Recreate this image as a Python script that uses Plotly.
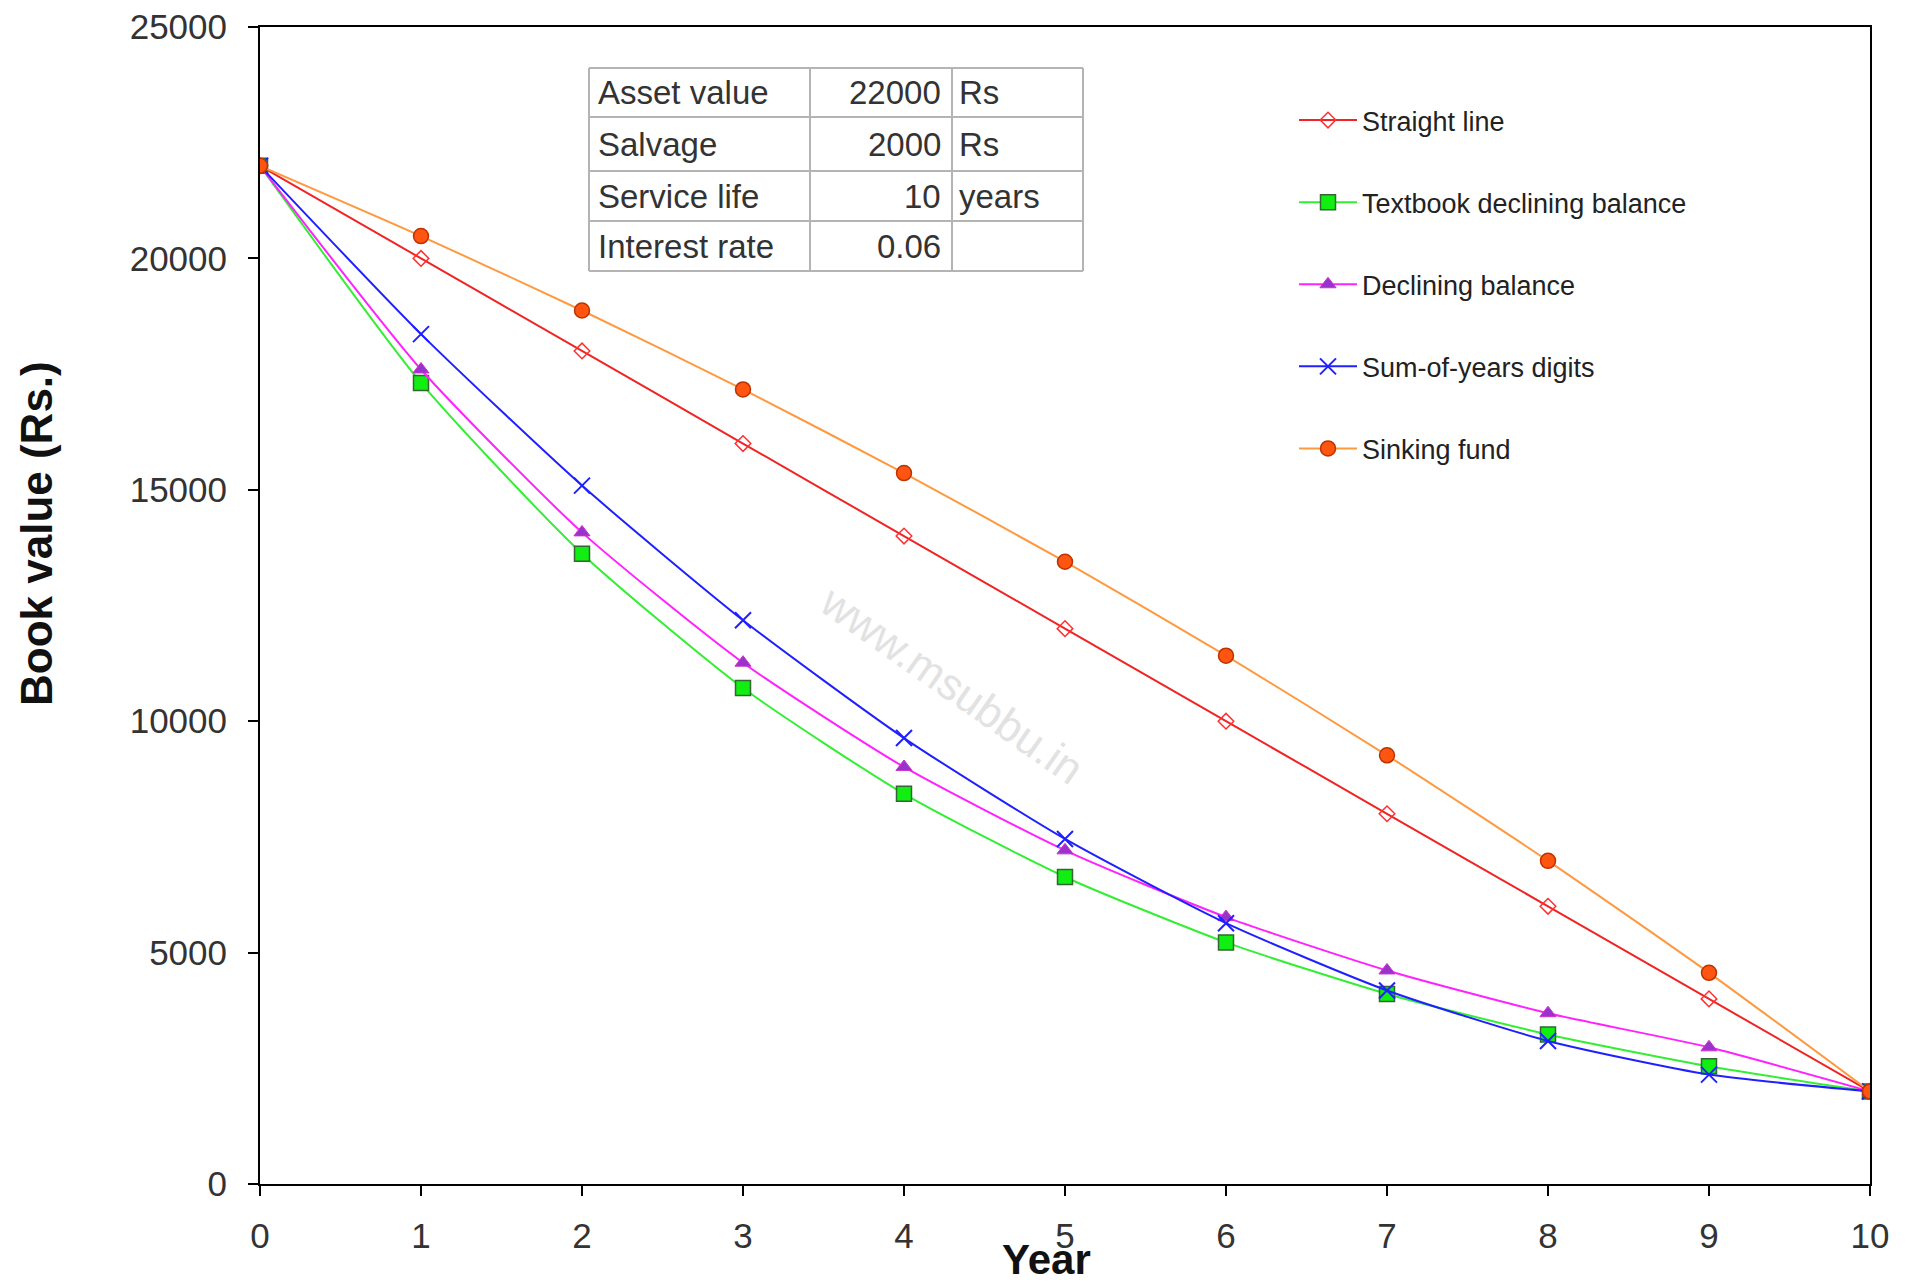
import plotly.graph_objects as go

# ---------------- data ----------------
years = [0, 1, 2, 3, 4, 5, 6, 7, 8, 9, 10]
straight_line = [22000, 20000, 18000, 16000, 14000, 12000, 10000, 8000, 6000, 4000, 2000]
textbook_db = [22000, 17310, 13620, 10716, 8431, 6634, 5220, 4107, 3231, 2543, 2000]
declining_bal = [22000, 17600, 14080, 11264, 9011, 7209, 5767, 4614, 3691, 2953, 2000]
sum_of_years = [22000, 18364, 15091, 12182, 9636, 7455, 5636, 4182, 3091, 2364, 2000]
sinking_fund = [22000, 20483, 18874, 17169, 15362, 13446, 11416, 9263, 6982, 4563, 2000]

series_names = ["Straight line", "Textbook declining balance", "Declining balance",
                "Sum-of-years digits", "Sinking fund"]

table_labels = ["Asset value", "Salvage", "Service life", "Interest rate"]
table_values = ["22000", "2000", "10", "0.06"]
table_units = ["Rs", "Rs", "years", ""]

y_ticks = [0, 5000, 10000, 15000, 20000, 25000]
y_tick_text = ["0", "5000", "10000", "15000", "20000", "25000"]
x_ticks = [0, 1, 2, 3, 4, 5, 6, 7, 8, 9, 10]

# ---------------- layout geometry (pixels) ----------------
W, H = 1914, 1284
L, R, T, B = 260, 44, 27, 100
PW, PH = W - L - R, H - T - B


def px(x):
    return (x - L) / PW


def py(y):
    return 1 - (y - T) / PH


FONT = "Liberation Sans, Arial, sans-serif"

fig = go.Figure()

styles = [
    dict(line=dict(color="#f02424", width=2),
         marker=dict(symbol="diamond-open", size=12, color="#ff3030", line=dict(width=1.5, color="#ff3030"))),
    dict(line=dict(color="#33ee33", width=2),
         marker=dict(symbol="square", size=15, color="#11ee11", line=dict(width=1.5, color="#336633"))),
    dict(line=dict(color="#ff22ff", width=2),
         marker=dict(symbol="triangle-up", size=14, color="#9933cc", line=dict(width=1, color="#cc33cc"))),
    dict(line=dict(color="#2020ff", width=2),
         marker=dict(symbol="x-thin-open", size=16, color="#2020ff", line=dict(width=2, color="#2020ff"))),
    dict(line=dict(color="#ff9940", width=2),
         marker=dict(symbol="circle", size=15, color="#ff5511", line=dict(width=1.5, color="#bb3300"))),
]
series = [straight_line, textbook_db, declining_bal, sum_of_years, sinking_fund]

for i, (name, vals, st) in enumerate(zip(series_names, series, styles)):
    fig.add_trace(go.Scatter(
        x=years, y=vals, name=name, mode="lines+markers",
        line=dict(shape="spline", smoothing=0.6, **st["line"]),
        marker=st["marker"], legendgroup=f"g{i}",
    ))

# ---------------- table ----------------
row_y = [68, 117, 171, 221, 271]
col_x = [589, 810, 952, 1083]
grid_color = "#b4b4b4"
for yy in row_y:
    fig.add_shape(type="line", xref="paper", yref="paper",
                  x0=px(col_x[0]), x1=px(col_x[-1]), y0=py(yy), y1=py(yy),
                  line=dict(color=grid_color, width=2))
for xx in col_x:
    fig.add_shape(type="line", xref="paper", yref="paper",
                  x0=px(xx), x1=px(xx), y0=py(row_y[0]), y1=py(row_y[-1]),
                  line=dict(color=grid_color, width=2))

tfont = dict(family=FONT, size=33, color="#333333")
for i in range(len(table_labels)):
    yc = py((row_y[i] + row_y[i + 1]) / 2)
    fig.add_annotation(x=px(col_x[0] + 7), y=yc, xref="paper", yref="paper", text=table_labels[i],
                       showarrow=False, xanchor="left", yanchor="middle", font=tfont)
    fig.add_annotation(x=px(col_x[2] - 9), y=yc, xref="paper", yref="paper", text=table_values[i],
                       showarrow=False, xanchor="right", yanchor="middle", font=tfont)
    if table_units[i]:
        fig.add_annotation(x=px(col_x[2] + 5), y=yc, xref="paper", yref="paper", text=table_units[i],
                           showarrow=False, xanchor="left", yanchor="middle", font=tfont)

# ---------------- watermark ----------------
fig.add_annotation(x=px(952), y=py(684), xref="paper", yref="paper", text="www.msubbu.in",
                   showarrow=False, textangle=35, font=dict(family=FONT, size=44, color="#e2e2e2"))

# ---------------- axis titles ----------------
fig.add_annotation(x=px(1046), y=py(1259), xref="paper", yref="paper", text="<b>Year</b>",
                   showarrow=False, xanchor="center", yanchor="middle",
                   font=dict(family=FONT, size=42, color="#111111"))
fig.add_annotation(x=px(36), y=py(534), xref="paper", yref="paper", text="<b>Book value (Rs.)</b>",
                   showarrow=False, textangle=-90, xanchor="center", yanchor="middle",
                   font=dict(family=FONT, size=44, color="#111111"))

fig.update_layout(
    width=W, height=H,
    margin=dict(l=L, r=R, t=T, b=B, autoexpand=False),
    paper_bgcolor="white", plot_bgcolor="white",
    showlegend=True,
    legend=dict(x=px(1294), y=py(96), xanchor="left", yanchor="top",
                font=dict(family=FONT, size=27, color="#222222"),
                bgcolor="rgba(0,0,0,0)", tracegroupgap=44, traceorder="grouped",
                itemwidth=58),
    xaxis=dict(range=[0, 10], tickvals=x_ticks, ticks="outside", ticklen=10, tickwidth=2,
               tickcolor="black", showline=True, linecolor="black", linewidth=2, mirror=True,
               showgrid=False, zeroline=False, ticklabelstandoff=10, automargin=False,
               tickfont=dict(family=FONT, size=35, color="#333333")),
    yaxis=dict(range=[0, 25000], tickvals=y_ticks, ticktext=y_tick_text, ticks="outside",
               ticklen=10, tickwidth=2,
               tickcolor="black", showline=True, linecolor="black", linewidth=2, mirror=True,
               showgrid=False, zeroline=False, ticklabelstandoff=14, automargin=False,
               tickfont=dict(family=FONT, size=35, color="#333333")),
)

fig.write_html("out.html")
